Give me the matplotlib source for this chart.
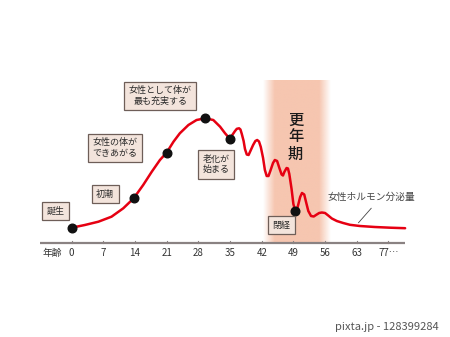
import numpy as np
import matplotlib
matplotlib.use("Agg")
import matplotlib.pyplot as plt

plt.rcParams['font.family'] = ['Noto Sans CJK JP', 'DejaVu Sans']

# ---- data ----
ages = [0.0, 2.9, 5.9, 8.8, 11.4, 13.7, 15.8, 17.7, 19.5, 21.0, 22.5, 23.9, 25.8,
        27.6, 29.5, 31.3, 32.8, 33.9, 35.0, 35.5, 36.1, 36.5, 37.0, 37.3, 37.6,
        38.0, 38.3, 38.7, 39.1, 39.5, 40.1, 40.6, 41.0, 41.4, 41.8, 42.3, 42.7,
        43.1, 43.5, 43.9, 44.5, 44.9, 45.4, 45.9, 46.4, 46.7, 47.0, 47.5, 47.8,
        48.1, 48.6, 49.0, 49.4, 49.7, 50.0, 50.5, 50.9, 51.4, 51.8, 52.3, 52.9,
        53.5, 54.0, 54.7, 55.3, 56.0, 56.7, 57.5, 58.6, 60.0, 61.5, 63.7, 67.0,
        70.4, 73.7]
hormone = [15.3, 18.0, 21.3, 26.3, 34.7, 44.7, 58.0, 71.3, 83.0, 90.5, 101.3, 109.7,
           118.0, 123.0, 124.7, 123.0, 116.3, 109.7, 104.0, 108.0, 112.0, 114.2,
           114.7, 113.5, 109.0, 102.0, 94.0, 88.5, 88.0, 92.0, 98.0, 102.0, 103.0,
           101.5, 96.0, 85.0, 73.0, 67.0, 67.0, 72.0, 80.0, 83.0, 82.0, 75.0, 68.5,
           67.5, 71.0, 75.0, 74.5, 69.0, 54.0, 39.0, 32.5, 32.0, 37.0, 46.0, 50.0,
           48.5, 41.0, 32.0, 27.0, 26.5, 28.0, 30.0, 30.5, 30.0, 27.5, 24.5, 22.0,
           20.0, 18.2, 17.0, 16.0, 15.3, 14.8]

event_ages = [0.0, 13.7, 21.0, 29.5, 35.0, 49.4]
event_levels = [15.3, 44.7, 90.5, 124.7, 104.0, 32.5]

labels = ["誕生", "初潮", "女性の体が\nできあがる", "女性として体が\n最も充実する", "老化が\n始まる", "閉経"]
label_ages = [-3.5, 7.4, 9.6, 19.6, 32.0, 46.3]
label_levels = [32, 49, 95, 147, 78.5, 18]

tick_pos = [0, 7, 14, 21, 28, 35, 42, 49, 56, 63, 70]
tick_labels = ["0", "7", "14", "21", "28", "35", "42", "49", "56", "63", "77…"]

menopause_start, menopause_end = 43.9, 55.6

# ---- figure ----
fig = plt.figure(figsize=(4.5, 3.37), dpi=100)
ax = fig.add_axes([0, 0, 1, 1])
ax.set_xlim(-15.85, 83.62)
ax.set_ylim(-94, 243)
ax.axis('off')

# menopause band with soft edges
fade = 1.6
x0, x1 = menopause_start - fade, menopause_end + fade
xs = np.linspace(x0, x1, 200)
alpha = np.clip(np.minimum(xs - x0, x1 - xs) / (fade * 1.6), 0, 1)
img = np.zeros((1, len(xs), 4))
img[..., 0] = 246 / 255
img[..., 1] = 198 / 255
img[..., 2] = 176 / 255
img[0, :, 3] = alpha
ax.imshow(img, extent=[x0, x1, 0, 163], aspect='auto', interpolation='bilinear', zorder=1)

ax.text(49.5, 106, "更\n年\n期", ha='center', va='center', fontsize=11,
        fontweight='medium', color='#1a1a1a', linespacing=1.0, zorder=3)

# axis line and ticks
ax.plot([-7, 73.7], [0, 0], color='#8a8282', lw=1.6, zorder=2, solid_capstyle='butt')
for p, t in zip(tick_pos, tick_labels):
    ax.plot([p, p], [0, 2.5], color='#8a8282', lw=0.8, zorder=2)
    ax.text(p, -10, t, ha='center', va='center', fontsize=7, color='#333333')
ax.text(-4.3, -10, "年齢", ha='center', va='center', fontsize=7, color='#333333')

# curve
ax.plot(ages, hormone, color='#e60012', lw=1.8, solid_joinstyle='round',
        solid_capstyle='round', zorder=4)
ax.plot(event_ages, event_levels, 'o', color='#111111', ms=6.2, zorder=5)

# labels
for t, a, l in zip(labels, label_ages, label_levels):
    ax.text(a, l, t, ha='center', va='center', fontsize=6.5, color='#2a2a2a',
            linespacing=1.25, zorder=6,
            bbox=dict(boxstyle='square,pad=0.5', fc='#f3e4dc', ec='#6e5e58', lw=0.9))

# hormone label with leader
ax.text(66.3, 46, "女性ホルモン分泌量", ha='center', va='center', fontsize=7, color='#444444')
ax.plot([66.2, 63.4], [34.7, 20.3], color='#444444', lw=0.6, zorder=3)

# watermark text
fig.text(0.975, 0.03, "pixta.jp - 128399284", ha='right', va='center', fontsize=8, color='#555555')

fig.savefig("out.png", dpi=100)
